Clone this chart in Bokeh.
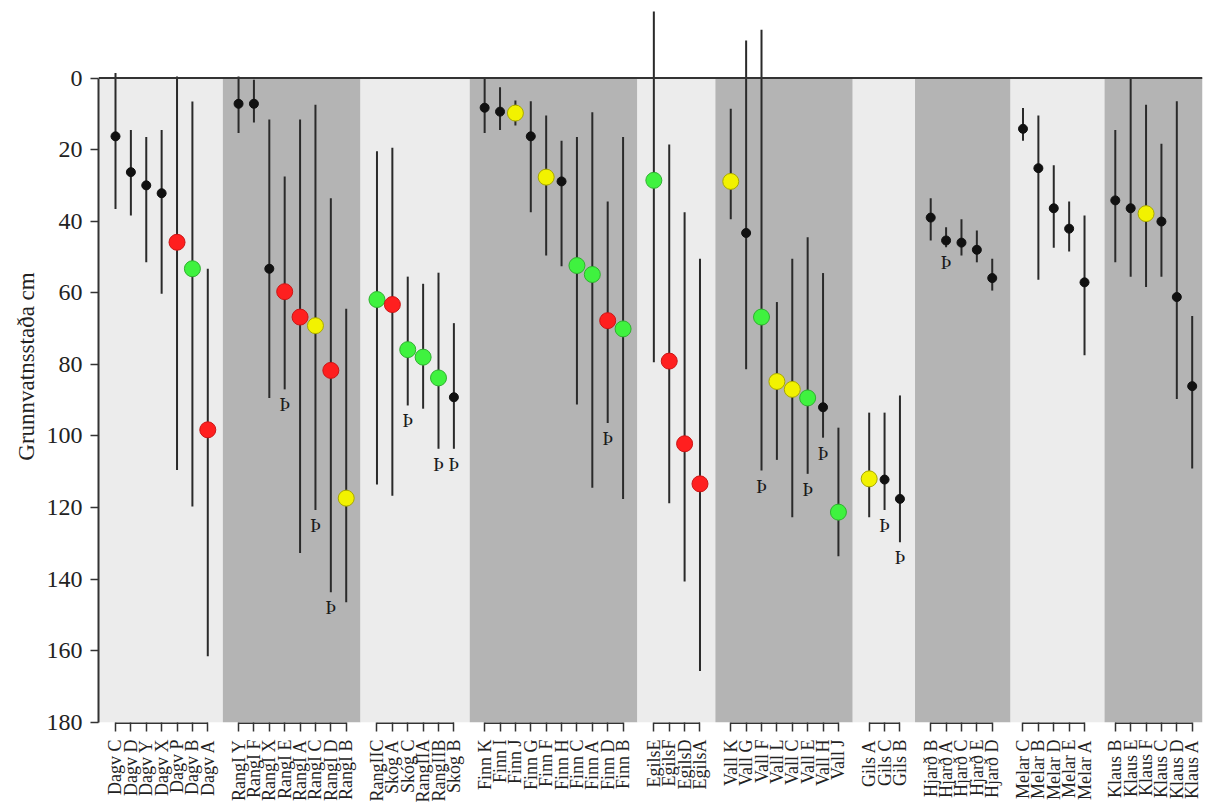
import math
from bokeh.plotting import figure
from bokeh.models import Range1d, FixedTicker, Span, Title
from bokeh.core.properties import value
from bokeh.embed import file_html
from bokeh.resources import INLINE

# ---------------- data ----------------
group_names = ["Dagv", "Rangl", "Skóg", "Finn", "Egils", "Vall", "Gils", "Hjarð", "Melar", "Klaus"]
group_sizes = [7, 8, 6, 10, 4, 8, 3, 5, 5, 6]

labels = ["Dagv C", "Dagv D", "Dagv Y", "Dagv X", "Dagv P", "Dagv B", "Dagv A",
          "RangI Y", "RangI F", "RangI X", "RangI E", "RangI A", "RangI C", "RangI D", "RangI B",
          "RangIIC", "Skóg A", "Skóg C", "RangIIA", "RangIIB", "Skóg B",
          "Finn K", "Finn I", "Finn J", "Finn G", "Finn F", "Finn H", "Finn C", "Finn A", "Finn D", "Finn B",
          "EgilsE", "EgilsF", "EgilsD", "EgilsA",
          "Vall K", "Vall G", "Vall F", "Vall L", "Vall C", "Vall E", "Vall H", "Vall J",
          "Gils A", "Gils C", "Gils B",
          "Hjarð B", "Hjarð A", "Hjarð C", "Hjarð E", "Hjarð D",
          "Melar C", "Melar B", "Melar D", "Melar E", "Melar A",
          "Klaus B", "Klaus E", "Klaus F", "Klaus C", "Klaus D", "Klaus A"]

mid = [16.3, 26.3, 30.0, 32.2, 45.9, 53.3, 98.3,
       7.2, 7.2, 53.3, 59.7, 66.8, 69.2, 81.7, 117.4,
       61.9, 63.3, 75.9, 78.0, 83.8, 89.2,
       8.3, 9.4, 9.8, 16.3, 27.7, 28.9, 52.4, 54.9, 67.8, 70.1,
       28.6, 79.1, 102.2, 113.4,
       28.9, 43.3, 66.8, 84.8, 87.0, 89.4, 92.0, 121.3,
       112.0, 112.2, 117.6,
       39.0, 45.4, 46.0, 48.0, 55.9,
       14.2, 25.2, 36.4, 42.1, 57.1,
       34.2, 36.4, 37.9, 40.1, 61.2, 86.1]

upper = [-1.4, 14.5, 16.5, 14.5, -0.4, 6.6, 53.3,
         -0.4, 0.5, 11.6, 27.5, 11.6, 7.5, 33.6, 64.5,
         20.5, 19.5, 55.5, 57.5, 54.4, 68.5,
         0.0, 2.6, 6.3, 6.5, 10.5, 17.5, 16.5, 9.6, 34.5, 16.5,
         -18.6, 18.6, 37.5, 50.5,
         8.6, -10.5, -13.5, 62.6, 50.5, 44.5, 54.5, 97.7,
         93.5, 93.5, 88.7,
         33.6, 41.7, 39.5, 42.6, 50.5,
         8.4, 10.5, 24.4, 34.5, 38.4,
         14.5, 0.0, 7.5, 18.4, 6.5, 66.5]

lower = [36.6, 38.4, 51.5, 60.3, 109.5, 119.7, 161.6,
         15.4, 12.4, 89.4, 87.0, 132.7, 120.7, 143.7, 146.5,
         113.6, 116.7, 91.5, 92.4, 103.6, 103.6,
         15.4, 14.5, 13.3, 37.5, 49.6, 52.6, 91.2, 114.5, 96.4, 117.6,
         79.4, 118.8, 140.7, 165.7,
         39.5, 81.4, 109.7, 106.7, 122.7, 110.6, 100.5, 133.6,
         122.7, 120.7, 129.7,
         45.4, 47.3, 49.6, 51.5, 59.4,
         17.5, 56.4, 47.4, 48.5, 77.5,
         51.5, 55.5, 58.4, 55.5, 89.7, 109.1]

# k = black dot, r = red, g = green, y = yellow
kind = ["k", "k", "k", "k", "r", "g", "r",
        "k", "k", "k", "r", "r", "y", "r", "y",
        "g", "r", "g", "g", "g", "k",
        "k", "k", "y", "k", "y", "k", "g", "g", "r", "g",
        "g", "r", "r", "r",
        "y", "k", "g", "y", "y", "g", "k", "g",
        "y", "k", "k",
        "k", "k", "k", "k", "k",
        "k", "k", "k", "k", "k",
        "k", "k", "y", "k", "k", "k"]

thorn = [0, 0, 0, 0, 0, 0, 0,
         0, 0, 0, 1, 0, 1, 1, 0,
         0, 0, 1, 0, 1, 1,
         0, 0, 0, 0, 0, 0, 0, 0, 1, 0,
         0, 0, 0, 0,
         0, 0, 1, 0, 0, 1, 1, 0,
         0, 1, 1,
         0, 1, 0, 0, 0,
         0, 0, 0, 0, 0,
         0, 0, 0, 0, 0, 0]

y_ticks = [0, 20, 40, 60, 80, 100, 120, 140, 160, 180]
y_label = "Grunnvatnsstaða cm"

# ---------------- layout helpers ----------------
xs = []
group_first, group_last = [], []
pos = 0
for n in group_sizes:
    group_first.append(pos)
    for _ in range(n):
        xs.append(pos)
        pos += 1
    group_last.append(pos - 1)
    pos += 1

band_edges = [-1.105, 6.98, 15.93, 23.03, 33.93, 39.0, 47.93, 51.98, 58.19, 64.3, 70.67]
band_colors = ["#ececec" if i % 2 == 0 else "#b4b4b4" for i in range(len(group_names))]

SERIF = value("Liberation Serif")

p = figure(width=1206, height=805,
           x_range=Range1d(-1.105, 70.67), y_range=Range1d(180.64, -19.42),
           output_backend="svg", toolbar_location=None,
           min_border_left=98, min_border_right=4, min_border_top=8, min_border_bottom=81)
p.grid.visible = False
p.outline_line_color = None
p.background_fill_color = "white"

# background bands
p.quad(left=band_edges[:-1], right=band_edges[1:], bottom=180, top=0,
       fill_color=band_colors, line_color=None)

# zero line
p.add_layout(Span(location=0, dimension="width", line_color="#333333", line_width=2))

# range lines
p.segment(x0=xs, y0=upper, x1=xs, y1=lower, line_color="#2a2a2a", line_width=2)

# group baselines at the bottom
p.segment(x0=group_first, y0=[180.3] * len(group_first), x1=group_last, y1=[180.3] * len(group_first),
          line_color="#333333", line_width=1.5)

# points
fills = {"r": "#ff1f1f", "g": "#3ff23f", "y": "#f2f200"}
edges = {"r": "#cc1515", "g": "#2fb02f", "y": "#a8a800"}
kx = [x for x, k in zip(xs, kind) if k == "k"]
ky = [m for m, k in zip(mid, kind) if k == "k"]
p.scatter(kx, ky, size=9, fill_color="#111111", line_color="#111111")
cx = [x for x, k in zip(xs, kind) if k != "k"]
cy = [m for m, k in zip(mid, kind) if k != "k"]
cf = [fills[k] for k in kind if k != "k"]
ce = [edges[k] for k in kind if k != "k"]
p.scatter(cx, cy, size=16, fill_color=cf, line_color=ce, line_width=1)

# Þ markers
tx = [x for x, t in zip(xs, thorn) if t]
ty = [lo + 4.3 for lo, t in zip(lower, thorn) if t]
p.text(x=tx, y=ty, text=["Þ"] * len(tx), text_font=SERIF, text_font_size="19px",
       text_align="center", text_baseline="middle", text_color="#1a1a1a")

# x axis
xa = p.xaxis[0]
xa.ticker = FixedTicker(ticks=xs)
xa.major_label_overrides = {x: lab for x, lab in zip(xs, labels)}
xa.major_label_orientation = math.pi / 2
xa.major_label_text_font = "Liberation Serif"
xa.major_label_text_font_size = "18px"
xa.major_label_text_color = "#222222"
xa.major_label_standoff = 8
xa.axis_line_color = None
xa.major_tick_out = 7
xa.major_tick_in = 2
xa.major_tick_line_color = "#333333"
xa.major_tick_line_width = 1.5
xa.minor_tick_line_color = None

# y axis
ya = p.yaxis[0]
ya.ticker = FixedTicker(ticks=y_ticks)
ya.bounds = (0, 180)
ya.major_label_text_font = "Liberation Serif"
ya.major_label_text_font_size = "24px"
ya.major_label_text_color = "#222222"
ya.major_label_standoff = 8
ya.axis_line_color = "#333333"
ya.axis_line_width = 2
ya.major_tick_out = 8
ya.major_tick_in = 0
ya.major_tick_line_color = "#333333"
ya.major_tick_line_width = 1.5
ya.minor_tick_line_color = None

# y axis title, placed as a left-side title so it can be shifted along the axis
p.add_layout(Title(text=y_label, align="center", offset=-24, standoff=10,
                   text_font="Liberation Serif", text_font_size="23px",
                   text_font_style="normal", text_color="#222222"), "left")

open("out.html", "w").write(file_html(p, INLINE))
